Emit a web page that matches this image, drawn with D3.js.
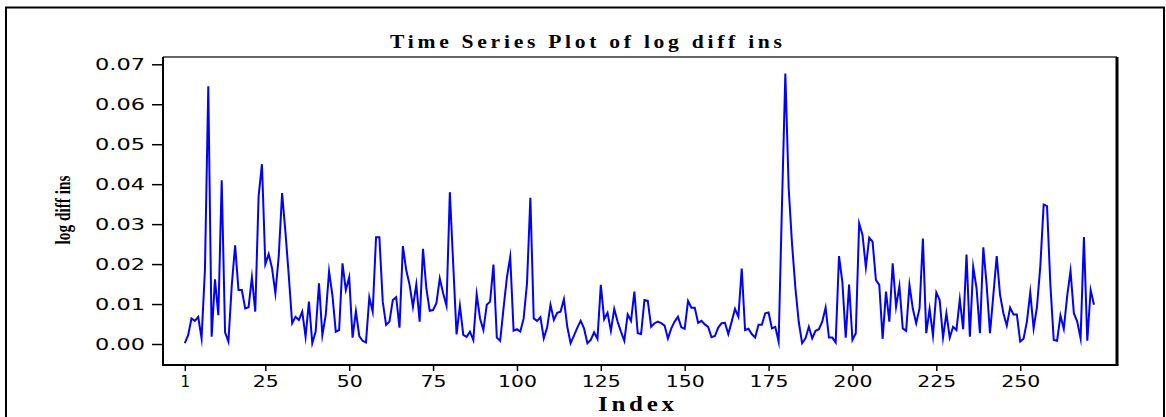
<!DOCTYPE html>
<html>
<head>
<meta charset="utf-8">
<title>Time Series Plot of log diff ins</title>
<script src="https://d3js.org/d3.v7.min.js"></script>
<style>
  body { margin: 0; background: #fff; }
  .axis text { font-family: "DejaVu Sans", sans-serif; font-size: 15px; fill: #000; }
  .axis line { stroke: #000; stroke-width: 1.5; }
  .axis path { display: none; }
</style>
</head>
<body>
<script>
// log diff values, index 1..272
var logDiff = [
  0.0002, 0.0022, 0.0064, 0.0058, 0.0068, 0.0014, 0.0185, 0.0645, 0.0018, 0.0162,
  0.0072, 0.0410, 0.0029, 0.0006, 0.0147, 0.0247, 0.0135, 0.0135, 0.0089, 0.0092,
  0.0167, 0.0081, 0.0370, 0.0450, 0.0200, 0.0225, 0.0190, 0.0127, 0.0220, 0.0378,
  0.0280, 0.0170, 0.0052, 0.0068, 0.0060, 0.0081, 0.0018, 0.0106, 0.0002, 0.0031,
  0.0152, 0.0022, 0.0072, 0.0182, 0.0122, 0.0031, 0.0035, 0.0202, 0.0135, 0.0167,
  0.0016, 0.0082, 0.0020, 0.0008, 0.0004, 0.0117, 0.0081, 0.0267, 0.0267, 0.0106,
  0.0048, 0.0056, 0.0110, 0.0117, 0.0041, 0.0245, 0.0185, 0.0148, 0.0093, 0.0149,
  0.0056, 0.0238, 0.0139, 0.0083, 0.0085, 0.0102, 0.0164, 0.0127, 0.0096, 0.0380,
  0.0200, 0.0024, 0.0096, 0.0023, 0.0018, 0.0031, 0.0010, 0.0124, 0.0064, 0.0035,
  0.0098, 0.0106, 0.0199, 0.0016, 0.0008, 0.0089, 0.0166, 0.0218, 0.0033, 0.0037,
  0.0031, 0.0064, 0.0152, 0.0366, 0.0064, 0.0058, 0.0067, 0.0014, 0.0041, 0.0098,
  0.0060, 0.0078, 0.0081, 0.0112, 0.0043, 0.0002, 0.0021, 0.0041, 0.0058, 0.0039,
  0.0002, 0.0010, 0.0029, 0.0013, 0.0148, 0.0062, 0.0078, 0.0033, 0.0088, 0.0056,
  0.0031, 0.0008, 0.0074, 0.0058, 0.0131, 0.0027, 0.0025, 0.0110, 0.0108, 0.0043,
  0.0052, 0.0056, 0.0052, 0.0046, 0.0014, 0.0039, 0.0056, 0.0068, 0.0042, 0.0038,
  0.0108, 0.0091, 0.0091, 0.0053, 0.0058, 0.0049, 0.0043, 0.0017, 0.0020, 0.0041,
  0.0052, 0.0053, 0.0025, 0.0056, 0.0088, 0.0068, 0.0189, 0.0035, 0.0038, 0.0025,
  0.0016, 0.0048, 0.0048, 0.0077, 0.0079, 0.0039, 0.0043, 0.0006, 0.0350, 0.0677,
  0.0389, 0.0250, 0.0140, 0.0055, 0.0002, 0.0014, 0.0043, 0.0014, 0.0033, 0.0037,
  0.0056, 0.0091, 0.0016, 0.0016, 0.0004, 0.0220, 0.0155, 0.0016, 0.0149, 0.0010,
  0.0027, 0.0302, 0.0273, 0.0192, 0.0266, 0.0256, 0.0160, 0.0148, 0.0013, 0.0131,
  0.0056, 0.0202, 0.0093, 0.0145, 0.0039, 0.0033, 0.0148, 0.0088, 0.0052, 0.0089,
  0.0264, 0.0027, 0.0088, 0.0021, 0.0129, 0.0110, 0.0016, 0.0077, 0.0016, 0.0043,
  0.0035, 0.0112, 0.0037, 0.0224, 0.0018, 0.0193, 0.0139, 0.0027, 0.0242, 0.0148,
  0.0027, 0.0123, 0.0220, 0.0123, 0.0077, 0.0046, 0.0091, 0.0074, 0.0074, 0.0006,
  0.0013, 0.0056, 0.0129, 0.0039, 0.0093, 0.0195, 0.0349, 0.0345, 0.0148, 0.0010,
  0.0008, 0.0071, 0.0038, 0.0120, 0.0183, 0.0077, 0.0056, 0.0014, 0.0268, 0.0008,
  0.0135, 0.0098
];
var xTicks = [1, 25, 50, 75, 100, 125, 150, 175, 200, 225, 250];
var yTicks = [0, 0.01, 0.02, 0.03, 0.04, 0.05, 0.06, 0.07];
var titleText = "Time Series Plot of log diff ins";
var xLabel = "Index";
var yLabel = "log diff ins";

var width = 1166, height = 417;
// plot frame
var frame = { left: 163, right: 1117, top: 57, bottom: 365 };

var svg = d3.select("body").append("svg")
    .attr("width", width)
    .attr("height", height);

// outer box
svg.append("rect")
    .attr("x", 6).attr("y", 7.5)
    .attr("width", 1158).attr("height", 430)
    .attr("fill", "none")
    .attr("stroke", "#000")
    .attr("stroke-width", 2);

var xScale = d3.scaleLinear().domain([1, logDiff.length]).range([184.8, 1094]);
var yScale = d3.scaleLinear().domain([0, 0.07]).range([344, 64.3]);

// frame lines
svg.append("line")
    .attr("x1", frame.left).attr("x2", frame.right)
    .attr("y1", frame.top).attr("y2", frame.top)
    .attr("stroke", "#666").attr("stroke-width", 2);
svg.append("line")
    .attr("x1", frame.right).attr("x2", frame.right)
    .attr("y1", frame.top).attr("y2", frame.bottom)
    .attr("stroke", "#000").attr("stroke-width", 3);
svg.append("line")
    .attr("x1", frame.left).attr("x2", frame.left)
    .attr("y1", frame.top).attr("y2", frame.bottom + 1)
    .attr("stroke", "#000").attr("stroke-width", 2);
svg.append("line")
    .attr("x1", frame.left).attr("x2", frame.right + 1.5)
    .attr("y1", frame.bottom).attr("y2", frame.bottom)
    .attr("stroke", "#000").attr("stroke-width", 2);

var xAxis = d3.axisBottom(xScale).tickValues(xTicks).tickSize(5).tickPadding(5)
    .tickFormat(d3.format("d"));
var yAxis = d3.axisLeft(yScale).tickValues(yTicks).tickSize(10).tickPadding(7)
    .tickFormat(d3.format(".2f"));

// the original labels are drawn with a wide face: stretch each one
svg.append("g")
    .attr("class", "axis")
    .attr("transform", "translate(0," + (frame.bottom + 1) + ")")
    .call(xAxis)
  .selectAll("text")
    .filter(function (d) { return String(d).length > 1; })
    .attr("textLength", function (d) { return String(d).length * 13; })
    .attr("lengthAdjust", "spacingAndGlyphs");

svg.append("g")
    .attr("class", "axis")
    .attr("transform", "translate(" + (frame.left - 1) + ",0)")
    .call(yAxis)
  .selectAll("text")
    .attr("dy", "0.36em")
    .attr("textLength", 50)
    .attr("lengthAdjust", "spacingAndGlyphs");

// series
var line = d3.line()
    .x(function (d, i) { return xScale(i + 1); })
    .y(function (d) { return yScale(d); });

svg.append("path")
    .datum(logDiff)
    .attr("d", line)
    .attr("fill", "none")
    .attr("stroke", "#0000ff")
    .attr("stroke-width", 2)
    .attr("stroke-linejoin", "miter")
    .attr("stroke-miterlimit", 10);

// title & labels (bold serif, stretched sideways)
svg.append("text")
    .attr("transform", "scale(1.2,1)")
    .attr("x", 586 / 1.2).attr("y", 48)
    .attr("text-anchor", "middle")
    .attr("textLength", 392 / 1.2)
    .attr("lengthAdjust", "spacing")
    .style("font-family", "'Liberation Serif', serif")
    .style("font-weight", "bold")
    .style("font-size", "18px")
    .text(titleText);

svg.append("text")
    .attr("transform", "scale(1.25,1)")
    .attr("x", 636 / 1.25).attr("y", 411)
    .attr("text-anchor", "middle")
    .attr("textLength", 76 / 1.25)
    .attr("lengthAdjust", "spacing")
    .style("font-family", "'Liberation Serif', serif")
    .style("font-weight", "bold")
    .style("font-size", "20px")
    .text(xLabel);

svg.append("text")
    .attr("transform", "translate(70,210) rotate(-90)")
    .attr("text-anchor", "middle")
    .attr("textLength", 69)
    .attr("lengthAdjust", "spacingAndGlyphs")
    .style("font-family", "'Liberation Serif', serif")
    .style("font-weight", "bold")
    .style("font-size", "21px")
    .text(yLabel);
</script>
</body>
</html>
